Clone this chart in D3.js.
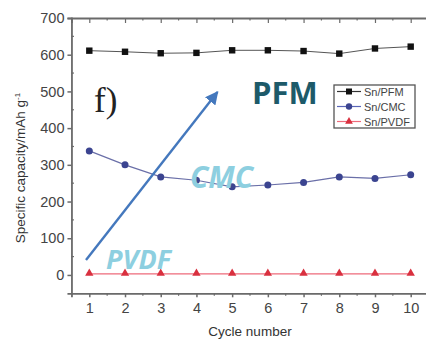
<!DOCTYPE html>
<html><head><meta charset="utf-8">
<script src="https://cdn.jsdelivr.net/npm/d3@7/dist/d3.min.js"></script>
<style>body{margin:0;background:#fff}svg{display:block}</style>
</head><body>
<script>
const cycles = [1,2,3,4,5,6,7,8,9,10];
const pfm  = [611,608,604,605,612,612,610,603,617,622];
const cmc  = [338,300,267,258,240,245,252,267,263,273];
const pvdf = [3,3,3,3,3,3,3,3,3,3];
const yTicks = [0,100,200,300,400,500,600,700];
const seriesNames = ["Sn/PFM","Sn/CMC","Sn/PVDF"];

const W=426,H=340;
const svg=d3.select("body").append("svg").attr("width",W).attr("height",H);
const x=d3.scaleLinear().domain([0.5,10.5]).range([71.45,428.55]);
const y=d3.scaleLinear().domain([-50,700]).range([293.3,18]);
const axisCol="#6a6a6a";
const font="Liberation Sans, Arial, sans-serif";

// Left axis
const gl=svg.append("g").attr("transform",`translate(${x(0.5)},0)`);
gl.call(d3.axisLeft(y).tickValues(yTicks).tickSize(4).tickPadding(3))
  .call(g=>{g.select(".domain").attr("stroke",axisCol).attr("stroke-width",1.8);
    g.selectAll(".tick line").attr("stroke",axisCol).attr("stroke-width",1.5);
    g.selectAll(".tick text").attr("font-family",font).attr("font-size",14.5).attr("fill","#444");});
gl.selectAll(".minor").data(d3.range(-50,701,100).filter(v=>v>-50)).enter().append("line")
  .attr("x1",0).attr("x2",2.5).attr("y1",d=>y(d)).attr("y2",d=>y(d)).attr("stroke",axisCol).attr("stroke-width",1.2);

// Bottom axis
const gb=svg.append("g").attr("transform",`translate(0,${y(-50)})`);
gb.call(d3.axisBottom(x).tickValues(cycles).tickSize(4).tickPadding(5))
  .call(g=>{g.select(".domain").attr("stroke",axisCol).attr("stroke-width",1.8);
    g.selectAll(".tick line").attr("stroke",axisCol).attr("stroke-width",1.5);
    g.selectAll(".tick text").attr("font-family",font).attr("font-size",14.5).attr("fill","#444");});
gb.selectAll(".minor").data(cycles.map(c=>c+0.5)).enter().append("line")
  .attr("x1",d=>x(d)).attr("x2",d=>x(d)).attr("y1",0).attr("y2",2.5).attr("stroke",axisCol).attr("stroke-width",1.2);

// Top axis
const gt=svg.append("g").attr("transform",`translate(0,${y(700)})`);
gt.call(d3.axisBottom(x).tickValues(cycles).tickSize(5).tickFormat(""))
  .call(g=>{g.select(".domain").attr("stroke",axisCol).attr("stroke-width",1.8);
    g.selectAll(".tick line").attr("stroke",axisCol).attr("stroke-width",1.2);});
gt.selectAll(".minor").data(cycles.map(c=>c+0.5)).enter().append("line")
  .attr("x1",d=>x(d)).attr("x2",d=>x(d)).attr("y1",0).attr("y2",2.5).attr("stroke",axisCol).attr("stroke-width",1.2);

// Axis labels
svg.append("text").attr("x",250).attr("y",336).attr("text-anchor","middle")
  .attr("font-family",font).attr("font-size",13.5).attr("fill","#333").text("Cycle number");
const yl=svg.append("text").attr("transform","translate(25,168) rotate(-90)").attr("text-anchor","middle")
  .attr("font-family",font).attr("font-size",13.5).attr("fill","#333");
yl.append("tspan").text("Specific capacity/mAh g");
yl.append("tspan").attr("dy",-5).attr("font-size",8).text("-1");

// Series
const line=d3.line().x((d,i)=>x(cycles[i])).y(d=>y(d));
svg.append("path").datum(pfm).attr("d",line).attr("fill","none").attr("stroke","#555").attr("stroke-width",1);
svg.append("path").datum(cmc).attr("d",line).attr("fill","none").attr("stroke","#6a6fa8").attr("stroke-width",1.2);
svg.append("path").datum(pvdf).attr("d",line).attr("fill","none").attr("stroke","#ee6a7a").attr("stroke-width",1.4);

svg.selectAll(".sq").data(pfm).enter().append("rect")
  .attr("x",(d,i)=>x(cycles[i])-3.2).attr("y",d=>y(d)-3.2).attr("width",6.4).attr("height",6.4).attr("fill","#111");
svg.selectAll(".ci").data(cmc).enter().append("circle")
  .attr("cx",(d,i)=>x(cycles[i])).attr("cy",d=>y(d)).attr("r",3.5).attr("fill","#3b4490");
const tri=d3.symbol().type(d3.symbolTriangle).size(30);
svg.selectAll(".tr").data(pvdf).enter().append("path").attr("d",tri)
  .attr("transform",(d,i)=>`translate(${x(cycles[i])},${y(d)-0.5})`).attr("fill","#d9303f");

// Legend
const lg=svg.append("g");
lg.append("rect").attr("x",334).attr("y",85).attr("width",81).attr("height",43)
  .attr("fill","#fff").attr("stroke","#555").attr("stroke-width",1.3);
const lcols=[["#333","#111"],["#5a66b8","#3b4490"],["#ee6a7a","#d9303f"]];
seriesNames.forEach((n,i)=>{
  const yy=91.5+i*15;
  lg.append("line").attr("x1",337).attr("x2",361).attr("y1",yy).attr("y2",yy).attr("stroke",lcols[i][0]).attr("stroke-width",1.2);
  if(i===0) lg.append("rect").attr("x",346).attr("y",yy-3).attr("width",6).attr("height",6).attr("fill",lcols[i][1]);
  if(i===1) lg.append("circle").attr("cx",349).attr("cy",yy).attr("r",3.2).attr("fill",lcols[i][1]);
  if(i===2) lg.append("path").attr("d",d3.symbol().type(d3.symbolTriangle).size(26)).attr("transform",`translate(349,${yy})`).attr("fill",lcols[i][1]);
  lg.append("text").attr("x",364).attr("y",yy+4).attr("font-family",font).attr("font-size",11).attr("fill","#444").text(n);
});

// Annotations
svg.append("text").attr("x",94).attr("y",112).attr("font-family","Liberation Serif, Times New Roman, serif")
  .attr("font-size",35).attr("fill","#222").text("f)");
svg.append("text").attr("x",252).attr("y",104).attr("font-family","Open Sans, sans-serif").attr("font-weight","bold")
  .attr("font-size",31).attr("fill","#1d5a69").text("PFM");
svg.append("text").attr("x",190).attr("y",188).attr("font-family","Open Sans, sans-serif").attr("font-weight","bold")
  .attr("font-style","italic").attr("font-size",30).attr("fill","#8dcfe0").text("CMC");
svg.append("text").attr("x",106).attr("y",269).attr("font-family","Open Sans, sans-serif").attr("font-weight","bold")
  .attr("font-style","italic").attr("font-size",27).attr("fill","#8dcfe0").text("PVDF");

// Arrow
const defs=svg.append("defs");
defs.append("marker").attr("id","ah").attr("viewBox","0 0 10 10").attr("refX",9).attr("refY",5)
  .attr("markerWidth",5.5).attr("markerHeight",5.5).attr("orient","auto")
  .append("path").attr("d","M0,0 L10,5 L0,10 z").attr("fill","#4478bd");
svg.append("line").attr("x1",86).attr("y1",260).attr("x2",217.5).attr("y2",92)
  .attr("stroke","#4478bd").attr("stroke-width",2.4).attr("marker-end","url(#ah)");
</script>
</body></html>
